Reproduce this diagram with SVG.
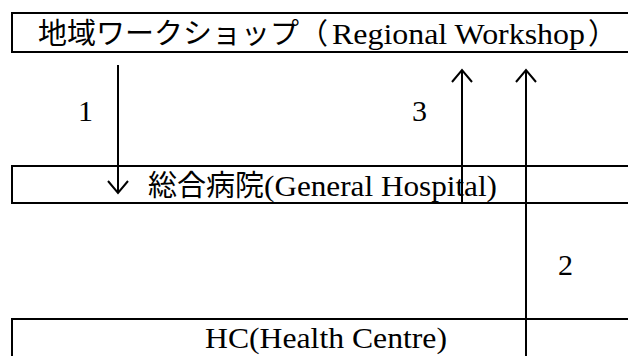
<svg xmlns="http://www.w3.org/2000/svg" width="628" height="356" viewBox="0 0 628 356">
<defs>
<style>
.box{fill:#fff;stroke:#000;stroke-width:2}
.lbl{font-family:"Liberation Serif","Noto Sans CJK JP",serif;font-size:29px;fill:#000}
.lat{font-family:"Liberation Serif",serif;font-size:30px;fill:#000}
.conn{stroke:#000;stroke-width:2;fill:none}
</style>
<marker id="ah" viewBox="-15 -15 30 30" refX="0" refY="0" markerWidth="30" markerHeight="30" markerUnits="userSpaceOnUse" orient="auto" overflow="visible">
<path d="M-12,-10 L0,0 L-12,10" fill="none" stroke="#000" stroke-width="2"/>
</marker>
</defs>
<rect width="628" height="356" fill="#fff"/>
<g id="workshop">
<rect class="box" x="12" y="13" width="630" height="39"/>
<text class="lbl" x="38" y="44">地域ワークショップ（</text>
<text class="lat" x="332" y="44" textLength="253" lengthAdjust="spacingAndGlyphs">Regional Workshop</text>
<text class="lbl" x="588" y="44">）</text>
</g>
<g id="hospital">
<rect class="box" x="12" y="166" width="630" height="37"/>
<text class="lbl" x="148" y="196">総合病院</text>
<text class="lat" x="264" y="196" textLength="233" lengthAdjust="spacingAndGlyphs">(General Hospital)</text>
</g>
<g id="hc">
<rect class="box" x="12" y="319" width="630" height="60"/>
<text class="lat" x="205" y="348" textLength="242" lengthAdjust="spacingAndGlyphs">HC(Health Centre)</text>
</g>
<g id="connectors">
<line class="conn" x1="118" y1="65" x2="118" y2="193" marker-end="url(#ah)"/>
<line class="conn" x1="462" y1="202" x2="462" y2="70" marker-end="url(#ah)"/>
<line class="conn" x1="526" y1="360" x2="526" y2="70" marker-end="url(#ah)"/>
<text class="lat" x="78" y="121">1</text>
<text class="lat" x="412" y="121">3</text>
<text class="lat" x="558" y="275">2</text>
</g>
</svg>
